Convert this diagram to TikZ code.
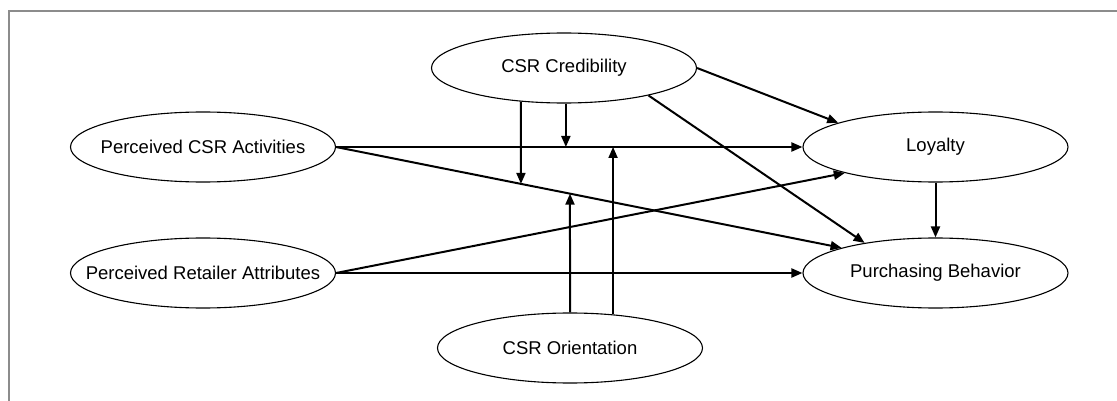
\documentclass[tikz,border=0pt]{standalone}
\usepackage{fontspec}
\setmainfont{Liberation Sans}
\usetikzlibrary{shapes.geometric,arrows.meta,intersections}

% label set in a zero-width box so the ellipse size is fixed by its minimum size
\newcommand{\ctext}[1]{\makebox[0pt][c]{#1}}

\begin{document}
\begin{tikzpicture}[x=1pt,y=-1pt,
  construct/.style={draw, ellipse, line width=1.1pt, minimum width=265pt,
    minimum height=70pt, inner sep=0pt,
    font=\fontsize{18.5}{22}\selectfont},
  arr/.style={line width=2pt, -{Triangle[length=11pt,width=9pt]}},
  frameline/.style={draw=black!45, line width=1.4pt}]

  \useasboundingbox (0,0) rectangle (1117,401);

  % open frame along the top and left edges
  \draw[frameline] (1117,11) -- (9,11) -- (9,401);

  % constructs
  \node[construct] (cred)   at (564,68)    {\ctext{CSR Credibility}};
  \node[construct] (pca)    at (203,147)   {\ctext{Perceived CSR Activities}};
  \node[construct] (pra)    at (203,273)   {\ctext{Perceived Retailer Attributes}};
  \node[construct] (loy)    at (935.5,147) {\ctext{Loyalty}};
  \node[construct] (pb)     at (935.5,273) {\ctext{Purchasing Behavior}};
  \node[construct] (orient) at (570,348)   {\ctext{CSR Orientation}};

  % direct paths
  \draw[arr] (pca.east) -- (loy.west);
  \draw[arr, name path=pcapb] (pca.east) -- (pb.165);
  \draw[arr] (pra.east) -- (pb.west);
  \draw[arr] (pra.east) -- (loy.196);
  \draw[arr] (cred.east) -- (loy.166);
  \draw[arr] (cred.-18) -- (pb.157);
  \draw[arr] (loy.south) -- (pb.north);

  % moderating paths onto the activity links
  \path[name path=v1] (cred.218) -- ++(0,200);
  \path[name path=v2] (orient.north) -- ++(0,-250);
  \path[name intersections={of=pcapb and v1, by=m1}];
  \path[name intersections={of=pcapb and v2, by=m2}];

  \draw[arr] (cred.218) -- (m1);
  \draw[arr] (cred.273) -- (cred.273 |- pca.east);
  \draw[arr] (orient.north) -- (m2);
  \draw[arr] (orient.38) -- (orient.38 |- pca.east);
\end{tikzpicture}
\end{document}
